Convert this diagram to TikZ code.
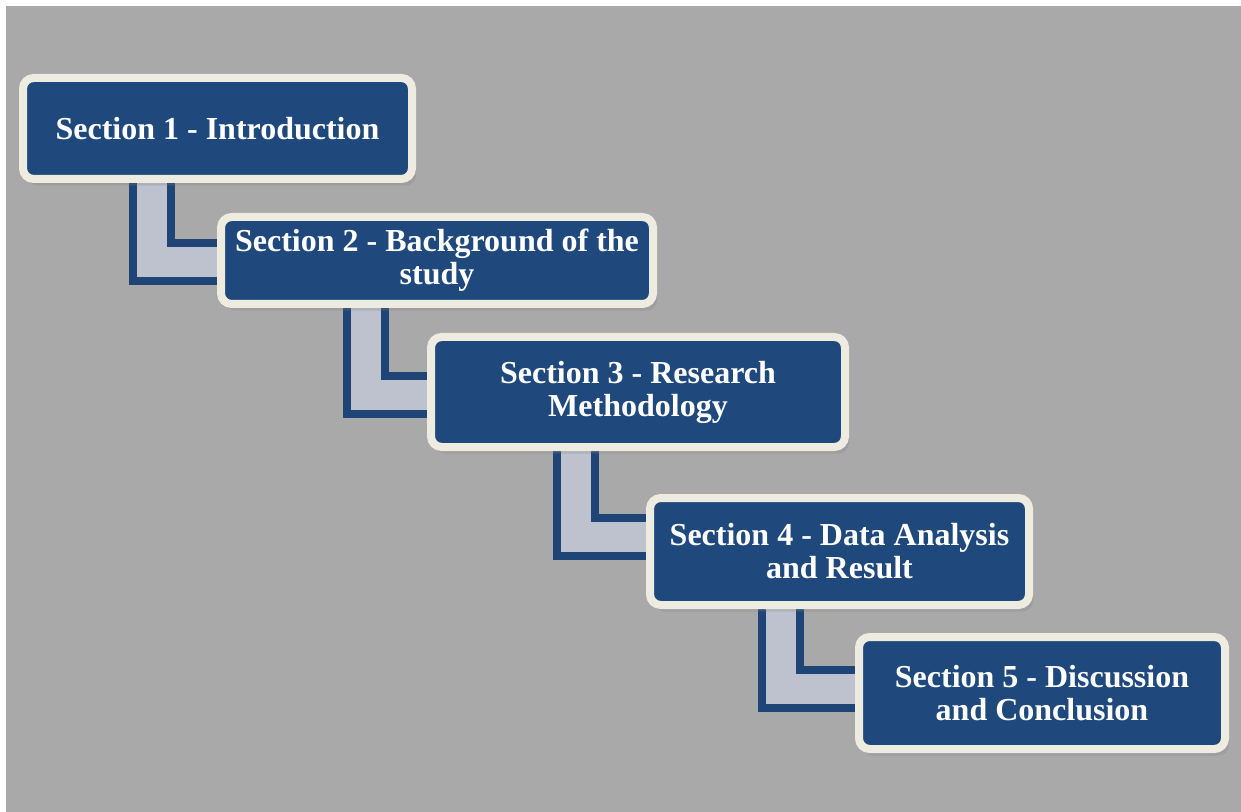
\documentclass[tikz,border=0pt]{standalone}
\usepackage{fontspec}
\setmainfont{Liberation Serif}
\usetikzlibrary{calc,shadows,backgrounds}
\definecolor{bggray}{HTML}{A9A9A9}
\definecolor{secblue}{HTML}{1F497D}
\definecolor{secrim}{HTML}{EEECE1}
\definecolor{linkblue}{HTML}{1E4576}
\definecolor{linkfill}{HTML}{BDC2CE}
\tikzset{
	section/.style={draw=secrim, fill=secblue, line width=6pt, rounded corners=8pt,
		text=white, font=\fontsize{24}{24.75}\selectfont\bfseries, align=center, inner sep=0pt,
		drop shadow={shadow xshift=3pt, shadow yshift=-5pt, opacity=0.25}},
	link/.style={draw=linkblue, double=linkfill, double distance=22.5pt, line width=6pt, line join=miter}
}

\begin{document}
\begin{tikzpicture}[x=0.75pt, y=-0.75pt]
			%%%%% START %%%%%
			
			\useasboundingbox (0, 0) rectangle (1241, 812);
			
			\node[section, minimum width=291.75pt, minimum height=75.75pt] (s1) at (217.5, 128.5) {Section 1 - Introduction};
			\node[section, minimum width=324pt, minimum height=65.25pt] (s2) at (437, 260.5) {Section 2 - Background of the\\study};
			\node[section, minimum width=310.5pt, minimum height=82.5pt] (s3) at (638, 392) {Section 3 - Research\\Methodology};
			\node[section, minimum width=284.25pt, minimum height=80.25pt] (s4) at (839.5, 551.5) {Section 4 - Data Analysis\\and Result};
			\node[section, minimum width=274.5pt, minimum height=84pt] (s5) at (1042, 693) {Section 5 - Discussion\\and Conclusion};
			
			\begin{scope}[on background layer]
				\fill[white] (0, 0) rectangle (1241, 812);
				\fill[bggray] (6, 6) rectangle (1241, 812);
				
				\draw[link] ($(s1.west)+(133, 0)$) |- ($(s2.west)+(0, 2)$);
				\draw[link] ($(s2.west)+(149, 0)$) |- ($(s3.west)+(0, 3.5)$);
				\draw[link] ($(s3.west)+(149, 0)$) |- ($(s4.west)+(0, -15)$);
				\draw[link] ($(s4.west)+(134.5, 0)$) |- ($(s5.west)+(0, -4)$);
			\end{scope}
			
			%%%%% END %%%%%
\end{tikzpicture}
\end{document}
